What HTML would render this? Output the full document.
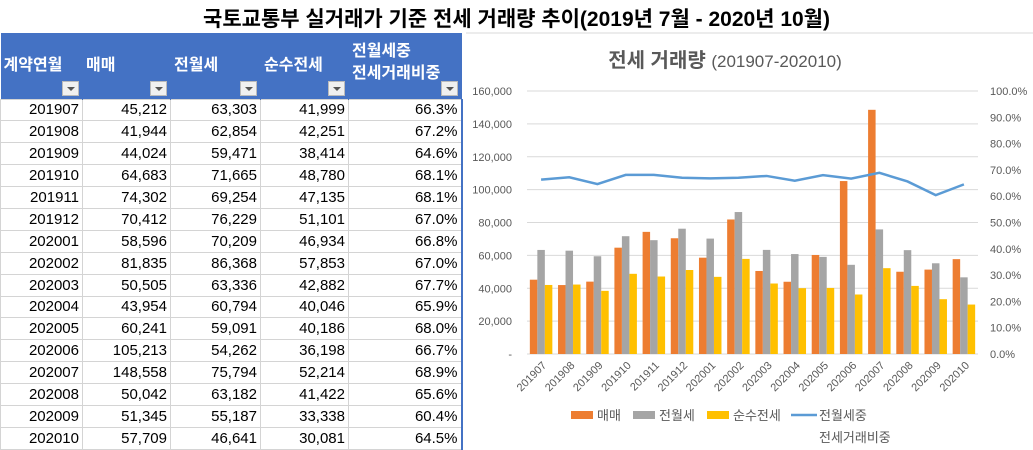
<!DOCTYPE html>
<html><head><meta charset="utf-8">
<style>
body{margin:0;width:1033px;height:450px;overflow:hidden;background:#fff;font-family:"Liberation Sans","Noto Sans CJK KR",sans-serif;position:relative}
#title{position:absolute;left:0;top:3px;width:1033px;text-align:center;font-size:21px;font-weight:bold;color:#000}
table{position:absolute;left:0;top:33px;border-collapse:collapse;font-size:15px;table-layout:fixed}
th{background:#4472C4;color:#fff;font-weight:bold;text-align:left;vertical-align:middle;height:66px;padding:0 3px;position:relative;font-size:16px;border-right:1px solid #4472C4;line-height:22px;box-sizing:border-box}
th .dd{position:absolute;right:3px;bottom:3px;width:15px;height:13px;background:#f0f0f0;border:1px solid #bbb}
th .dd:after{content:"";position:absolute;left:4px;top:5px;border-left:4px solid transparent;border-right:4px solid transparent;border-top:4px solid #555}
tbody tr{height:21.9px}
td{height:20.9px;padding:0 3px;text-align:right;border:1px solid #d4d4d4;color:#000;line-height:19px;box-sizing:border-box}
tr td:last-child{border-right:2px solid #4472C4}
</style></head><body>
<div id="title">국토교통부 실거래가 기준 전세 거래량 추이(2019년 7월 - 2020년 10월)</div>
<table>
<colgroup><col style="width:82px"><col style="width:88px"><col style="width:90px"><col style="width:88px"><col style="width:113px"></colgroup>
<thead><tr>
<th>계약연월<span class="dd"></span></th>
<th>매매<span class="dd"></span></th>
<th>전월세<span class="dd"></span></th>
<th>순수전세<span class="dd"></span></th>
<th style="padding-bottom:6px">전월세중<br>전세거래비중<span class="dd"></span></th>
</tr></thead><tbody id="tb"></tbody></table>
<svg id="ch" width="1033" height="450" style="position:absolute;left:0;top:0"></svg>
<script>
const categories=["201907","201908","201909","201910","201911","201912","202001","202002","202003","202004","202005","202006","202007","202008","202009","202010"];
const sale=[45212,41944,44024,64683,74302,70412,58596,81835,50505,43954,60241,105213,148558,50042,51345,57709];
const rent=[63303,62854,59471,71665,69254,76229,70209,86368,63336,60794,59091,54262,75794,63182,55187,46641];
const jeonse=[41999,42251,38414,48780,47135,51101,46934,57853,42882,40046,40186,36198,52214,41422,33338,30081];
const ratio=[66.3,67.2,64.6,68.1,68.1,67.0,66.8,67.0,67.7,65.9,68.0,66.7,68.9,65.6,60.4,64.5];
const leftTicks=["-","20,000","40,000","60,000","80,000","100,000","120,000","140,000","160,000"];
const rightTicks=["0.0%","10.0%","20.0%","30.0%","40.0%","50.0%","60.0%","70.0%","80.0%","90.0%","100.0%"];
const f=n=>n.toLocaleString('en-US');
const tb=document.getElementById('tb');
categories.forEach((c,i)=>{const tr=document.createElement('tr');


tr.innerHTML=`<td>${c}</td><td>${f(sale[i])}</td><td>${f(rent[i])}</td><td>${f(jeonse[i])}</td><td>${ratio[i].toFixed(1)}%</td>`;tb.appendChild(tr);});
const S='http://www.w3.org/2000/svg',svg=document.getElementById('ch');
function el(t,a,txt){const e=document.createElementNS(S,t);for(const k in a)e.setAttribute(k,a[k]);if(txt!==undefined)e.textContent=txt;svg.appendChild(e);return e;}
const X0=527,X1=978,Y0=354,Y1=91;
const yL=v=>Y0-(v/160000)*(Y0-Y1), yR=v=>Y0-(v/100)*(Y0-Y1);
const bw=(X1-X0)/categories.length, cx=i=>X0+bw*(i+0.5);
let e=el('line',{x1:466,y1:33,x2:1033,y2:33,stroke:'#d9d9d9'});

e=el('text',{x:725,y:67,'text-anchor':'middle','font-size':20,'font-weight':'bold',fill:'#595959'});

e.innerHTML='전세 거래량 <tspan font-weight="normal" font-size="17">(201907-202010)</tspan>';
leftTicks.forEach((t,k)=>{const y=yL(k*20000);
const g=el('line',{x1:X0,x2:X1,y1:y,y2:y,stroke:'#d9d9d9'});
const l=el('text',{x:512,y:y+4,'text-anchor':'end','font-size':11,fill:'#595959'},t);});
rightTicks.forEach((t,k)=>{const l=el('text',{x:990,y:yR(k*10)+4,'font-size':11,fill:'#595959'},t);});
const series=[[sale,'#ED7D31','bar-sale'],[rent,'#A5A5A5','bar-rent'],[jeonse,'#FFC000','bar-jeonse']];
const w=7.5;
categories.forEach((c,i)=>{series.forEach(([d,col,nm],s)=>{const x=cx(i)-w*1.5+s*w;
const r=el('rect',{x:x,y:yL(d[i]),width:w,height:Y0-yL(d[i]),fill:col});});
const t=el('text',{transform:`translate(${cx(i)+6},${Y0+12}) rotate(-45)`,'text-anchor':'end','font-size':11,fill:'#595959'},c);
});
const ln=el('polyline',{points:ratio.map((v,i)=>cx(i)+','+yR(v)).join(' '),fill:'none',stroke:'#5B9BD5','stroke-width':2.5});

const leg=[['rect','#ED7D31','매매',571],['rect','#A5A5A5','전월세',633],['rect','#FFC000','순수전세',707],['line','#5B9BD5','전월세중',791]];
leg.forEach(([k,col,txt,x])=>{let m;if(k==='rect')m=el('rect',{x:x,y:411,width:22,height:8,fill:col});else m=el('line',{x1:x,x2:x+26,y1:415,y2:415,stroke:col,'stroke-width':2.5});

const t=el('text',{x:x+(k==='rect'?26:28),y:420,'font-size':13,fill:'#595959'},txt);});
e=el('text',{x:819,y:442,'font-size':13,fill:'#595959'},'전세거래비중');
</script></body></html>
